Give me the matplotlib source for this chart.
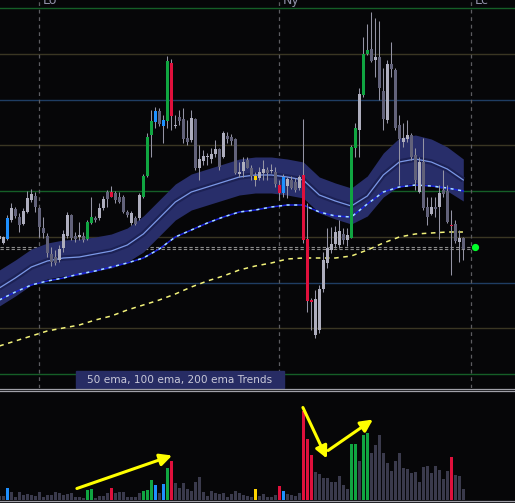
import matplotlib
matplotlib.use('Agg')
import matplotlib.pyplot as plt
import numpy as np
from matplotlib.lines import Line2D
from matplotlib.patches import Rectangle

# ---------------- data (price units, candle index) ----------------
opens = [161,157,161,180,191,183,176,188,200,204,192,172,164,146,143,140,152,164,185,164,
         163,164,161,177,182,182,192,208,208,207,203,203,188,177,182,182,203,224,265,278,
         289,274,279,337,274,283,281,262,260,281,232,239,243,241,246,251,243,264,263,261,
         226,229,240,232,224,222,227,230,229,228,215,207,214,220,218,212,225,161,100,65,
         70,111,137,150,156,155,166,160,162,252,270,305,346,351,340,343,309,280,336,330,
         275,258,261,265,245,208,238,193,186,193,193,210,209,175,176,158,162]
highs = [166,164,185,197,193,187,192,209,211,208,193,183,167,153,150,155,170,188,186,168,
         178,168,180,203,184,197,204,210,214,209,208,205,190,189,184,207,226,267,290,293,
         292,285,344,341,285,290,292,280,290,282,255,250,247,252,260,252,269,268,266,262,
         238,243,243,235,228,233,240,233,236,233,220,226,223,224,222,225,281,197,102,110,
         115,148,172,173,174,180,172,172,255,277,312,363,376,388,382,379,332,340,358,332,
         285,277,280,267,252,243,262,203,203,203,215,230,215,190,180,170,163]
lows = [159,156,160,178,182,168,175,187,198,188,163,162,143,134,135,138,148,162,160,158,
        160,158,160,176,178,180,190,193,203,197,197,187,183,175,175,180,202,223,243,272,
        274,257,272,270,272,275,257,255,258,230,220,235,235,237,243,230,242,257,255,226,
        223,223,232,220,214,220,220,220,227,213,200,203,202,211,208,210,157,88,70,62,
        67,108,132,147,152,152,156,154,162,243,243,303,345,338,323,300,270,277,323,270,
        215,253,258,240,210,207,190,175,185,183,161,203,177,125,157,138,140]
closes = [164,163,182,192,184,175,189,202,206,193,173,167,147,138,137,151,166,185,162,161,
          165,160,178,183,180,192,201,201,203,200,198,188,185,187,176,205,224,263,279,289,
          276,280,339,284,275,279,261,258,282,232,241,244,243.5,246,251,233,267,261,259,227,
          228,238,232,224,220,228,231,227,229.5,216,207,223,221,212,210,223,160,99,98,101,
          111,140,152,156,168,169,160,165,253,272,306,346,350,339,343,312,281,336,331,272,
          261,262,265,243,220,238,192,183,193,191,207,206,178,174,159,162,151]
# u = up (light), d = down (dark), g = green, r = red, b = blue, y = yellow
kinds = list("uubudduuud" "ddddduuudd" "udggduudrd" "dddudugggb" "dbgrudddud"
             "uuuuududdd" "uuddyuudud" "rbuddurrru" "uuuuuudugg" "uggduddudd"
             "duudduddud" "uddrdud")
volumes = [11,11,34,24,9,24,15,18,15,12,24,9,15,15,24,21,15,18,21,7,
           9,4,30,33,4,12,12,21,36,21,24,24,7,9,7,21,27,30,60,45,
           21,48,96,117,51,36,51,33,27,54,69,24,12,27,21,18,21,7,18,27,
           21,15,12,7,33,12,18,9,7,15,42,27,18,15,12,21,265,183,135,84,
           78,66,66,54,54,72,45,33,168,168,117,195,201,141,165,195,141,111,87,117,
           141,96,93,81,84,54,99,102,81,102,90,63,87,129,75,72,33]

# moving averages sampled every 4 candles
ma_idx = list(range(0, 117, 4))
ema50 = [112,122,133,139,142,143,146,149,155,166,182,198,208,213,218,223,225,225,223,220,
         205,199,194,204,225,238,241,238,231,220]
ema50_halfwidth = [18,18,18,18,18,18,17,17,17,18,18,18,18,18,18,18,18,18,18,18,
                   18,18,18,20,22,24,24,23,22,21]
ema100 = [100,108,115,119,122,126,129,133,137,142,151,163,170,177,183,188,190,193,195,195,
          188,184,183,196,208,213,215,214,212,209]
ema200 = [54,59,64,69,72,75,80,84,90,95,100,106,113,119,124,130,134,137,141,142,
          142,142,144,150,157,163,166,167,168,168]

grid_levels = [392, 346.25, 300.5, 254.75, 209, 163.25, 117.5, 71.75, 26]
grid_kinds = ['g', 'br', 'bl', 'br', 'g', 'br', 'bl', 'br', 'g']
ref_levels = [153.3, 150.7]
current_price = 153
current_x = 118.9
session_x = [10, 70, 118]
session_labels = ['Lo', 'Ny', 'Lc']
legend_text = '50 ema, 100 ema, 200 ema Trends'
arrow_starts = [(19.4, 33), (75.9, 276), (82.2, 147)]
arrow_ends = [(43.2, 132), (81.9, 123), (93.4, 240)]

# ---------------- style ----------------
BG = '#060608'
col = {'u': '#aeaebe', 'd': '#62627a', 'g': '#10a541', 'r': '#e0103c',
       'b': '#1e90ff', 'y': '#ffd400'}
volcol = {'u': '#3a3a4c', 'd': '#3a3a4c', 'g': '#10a541', 'r': '#e0103c',
          'b': '#1e90ff', 'y': '#ffd400'}
gridcol = {'g': '#155e27', 'br': '#3a3623', 'bl': '#1f3d63'}

W, H = 515, 503
fig = plt.figure(figsize=(W / 100, H / 100), dpi=100, facecolor=BG)
ax = fig.add_axes([0, 115 / H, 1, 388 / H], facecolor=BG)
axv = fig.add_axes([0, 3.5 / H, 1, 108 / H], facecolor=BG)
for a in (ax, axv):
    a.set_xlim(0.175, 128.925)
    a.set_axis_off()
ax.set_ylim(12, 400)
axv.set_ylim(0, 324)

idx = np.arange(len(opens))

for lv, gk in zip(grid_levels, grid_kinds):
    ax.axhline(lv, color=gridcol[gk], lw=1.0, zorder=1)
for sx in session_x:
    ax.axvline(sx, color='#5c5c60', lw=0.9, ls=(0, (3, 3)), zorder=1.5)
ax.hlines(ref_levels, 0.175, 117.6, color='#8a8a8a', lw=0.8, ls=(0, (3, 2)), zorder=1.6)

mi = np.array(ma_idx)
e50 = np.array(ema50, float)
hw = np.array(ema50_halfwidth, float)
ax.fill_between(mi, e50 - hw, e50 + hw, color='#282e6a', lw=0, zorder=2)
ax.plot(mi, e50, color='#1c2154', lw=4.0, zorder=2.2, solid_capstyle='butt')
ax.plot(mi, e50, color='#7b98e6', lw=0.9, zorder=2.3)
ax.plot(mi, ema100, color='#1a22d8', lw=1.1, zorder=2.4)
ax.plot(mi, ema100, color='#a8e0ff', lw=1.1, ls=(0, (2, 3)), zorder=2.5)
ax.plot(mi, ema200, color='#f2f27a', lw=1.1, ls=(0, (3, 3)), zorder=2.4)

o = np.array(opens, float); c = np.array(closes, float)
hi = np.array(highs, float); lo = np.array(lows, float)
ax.vlines(idx, lo, hi, color='#9494a4', lw=0.75, zorder=3)
bot = np.minimum(o, c)
ht = np.maximum(np.abs(c - o), 1.0)
ax.bar(idx, ht, bottom=bot, width=0.72, color=[col[k] for k in kinds], lw=0, zorder=4)

ax.plot([current_x], [current_price], marker='o', ms=4.2, color='#00ff2a', zorder=5)

axv.bar(idx, volumes, width=0.68, color=[volcol[k] for k in kinds], lw=0, zorder=2)
for s, e in zip(arrow_starts, arrow_ends):
    axv.annotate('', xy=e, xytext=s,
                 arrowprops=dict(arrowstyle='-|>', color='#ffff00', lw=2.2,
                                 mutation_scale=18, shrinkA=0, shrinkB=0),
                 zorder=5)

# session labels (cut at top, as in the reference)
for sx, lab in zip(session_x, session_labels):
    px = -0.7 + 4 * sx
    fig.text((px + 3) / W, 1 - 4 / H, lab, color='#9090a8', fontsize=9,
             ha='left', va='baseline')

# legend box
fig.add_artist(Rectangle((76 / W, (H - 388) / H), 208 / W, 17 / H,
                         transform=fig.transFigure, color='#272c64', zorder=6))
fig.text(180 / W, (H - 379.5) / H, legend_text, color='#c8c8d8', fontsize=7.6,
         ha='center', va='center', zorder=7)

# panel separators
for ypx, cc in [(388.5, '#a0a0a8'), (390.5, '#a0a0a8'), (500.5, '#a0a0a8'), (502.5, '#707078')]:
    fig.add_artist(Line2D([0, 1], [1 - ypx / H, 1 - ypx / H], transform=fig.transFigure,
                          color=cc, lw=0.9, zorder=8))

fig.savefig('out.png', dpi=100, facecolor=BG)
